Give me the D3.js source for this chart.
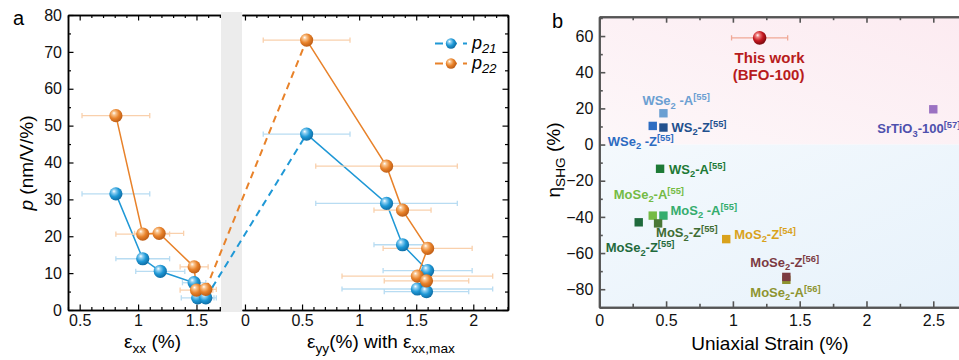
<!DOCTYPE html>
<html>
<head>
<meta charset="utf-8">
<script src="https://cdn.jsdelivr.net/npm/d3@7/dist/d3.min.js"></script>
<style>
  body { margin: 0; background: #fff; }
  svg { display: block; font-family: "Liberation Sans", Arial, sans-serif; }
</style>
</head>
<body>
<svg id="chart" width="959" height="360"></svg>
<script>
// ---- panel a: p vs strain, exx part
const xxStrain21 = [0.81, 1.04, 1.19, 1.48, 1.51, 1.58];
const xxErr21    = [0.29, 0.23, 0.21, 0.10, 0.14, 0.09];
const xxP21      = [31.5, 13.9, 10.5, 7.4, 3.3, 3.3];
const xxStrain22 = [0.81, 1.04, 1.18, 1.48, 1.50, 1.58];
const xxErr22    = [0.29, 0.23, 0.21, 0.12, 0.14, 0.09];
const xxP22      = [52.7, 20.6, 20.8, 11.7, 5.4, 5.6];

// ---- panel a: eyy part (with exx,max)
const yyStrain21 = [0.54, 1.24, 1.38, 1.60, 1.51, 1.59];
const yyErr21    = [0.38, 0.62, 0.25, 0.39, 0.66, 0.37];
const yyP21      = [47.7, 28.9, 17.7, 10.7, 5.7, 5.0];
const yyStrain22 = [0.54, 1.24, 1.38, 1.60, 1.51, 1.59];
const yyErr22    = [0.38, 0.62, 0.25, 0.39, 0.66, 0.37];
const yyP22      = [73.2, 39.0, 27.1, 16.7, 9.2, 7.9];

const xxTicks = [0.5, 1, 1.5];
const yyTicks = [0, 0.5, 1, 1.5, 2];
const pTicks  = [0, 10, 20, 30, 40, 50, 60, 70, 80];

// ---- panel b: eta_SHG vs uniaxial strain
const sampleNames  = ['WSe2-A', 'WSe2-Z', 'WS2-Z', 'WS2-A', 'MoSe2-A', 'MoS2-A', 'MoSe2-Z', 'MoS2-Z',
                      'MoS2-Z54', 'MoSe2-A56', 'MoSe2-Z56', 'SrTiO3'];
const sampleStrain = [0.48, 0.40, 0.48, 0.455, 0.40, 0.48, 0.295, 0.44, 0.95, 1.40, 1.40, 2.50];
const sampleEta    = [17.3, 10.3, 9.4, -13.4, -39.3, -39.3, -43.0, -43.6, -52.3, -74.8, -73.2, 19.5];
const thisStrain = 1.2, thisErr = 0.21, thisEta = 59;
const strainTicks = [0, 0.5, 1, 1.5, 2, 2.5];
const etaTicks = [-80, -60, -40, -20, 0, 20, 40, 60];

// label text pieces: [text, 'sub' | 'sup' | '']
const sampleLabels = {
  'WSe2-A':    [['WSe'], ['2', 'sub'], [' -A'], ['[55]', 'sup']],
  'WSe2-Z':    [['WSe'], ['2', 'sub'], [' -Z'], ['[55]', 'sup']],
  'WS2-Z':     [['WS'], ['2', 'sub'], ['-Z'], ['[55]', 'sup']],
  'WS2-A':     [['WS'], ['2', 'sub'], ['-A'], ['[55]', 'sup']],
  'MoSe2-A':   [['MoSe'], ['2', 'sub'], ['-A'], ['[55]', 'sup']],
  'MoS2-A':    [['MoS'], ['2', 'sub'], [' -A'], ['[55]', 'sup']],
  'MoSe2-Z':   [['MoSe'], ['2', 'sub'], ['-Z'], ['[55]', 'sup']],
  'MoS2-Z':    [['MoS'], ['2', 'sub'], ['-Z'], ['[55]', 'sup']],
  'MoS2-Z54':  [['MoS'], ['2', 'sub'], ['-Z'], ['[54]', 'sup']],
  'MoSe2-A56': [['MoSe'], ['2', 'sub'], ['-A'], ['[56]', 'sup']],
  'MoSe2-Z56': [['MoSe'], ['2', 'sub'], ['-Z'], ['[56]', 'sup']],
  'SrTiO3':    [['SrTiO'], ['3', 'sub'], ['-100'], ['[57]', 'sup']]
};
// styling / label placement (pixels relative to the marker)
const sampleColor = {
  'WSe2-A': '#6b9fd2', 'WSe2-Z': '#2c6cc2', 'WS2-Z': '#22508e', 'WS2-A': '#1d7a36',
  'MoSe2-A': '#74bb44', 'MoS2-A': '#35ad6e', 'MoSe2-Z': '#1f6a3c', 'MoS2-Z': '#4a7836',
  'MoS2-Z54': '#d9a21c', 'MoSe2-A56': '#8e9430', 'MoSe2-Z56': '#7b3a42', 'SrTiO3': '#9b72c2'
};
const labelColor = Object.assign({}, sampleColor, { 'SrTiO3': '#4e50ad', 'MoS2-Z': '#3f6d33' });
const labelOffset = {
  'WSe2-A': [-21, -8], 'WSe2-Z': [-45, 20], 'WS2-Z': [8, 4], 'WS2-A': [9, 5],
  'MoSe2-A': [-39, -17], 'MoS2-A': [7, -1], 'MoSe2-Z': [-33, 30], 'MoS2-Z': [-2, 14],
  'MoS2-Z54': [8, 0], 'MoSe2-A56': [-36, 17], 'MoSe2-Z56': [-36, -10], 'SrTiO3': [-56, 24]
};

const svg = d3.select('#chart');
const defs = svg.append('defs');

function sphereGrad(id, light, base, dark) {
  const g = defs.append('radialGradient').attr('id', id)
    .attr('cx', '40%').attr('cy', '38%').attr('r', '62%').attr('fx', '35%').attr('fy', '30%');
  g.append('stop').attr('offset', '0%').attr('stop-color', '#ffffff');
  g.append('stop').attr('offset', '22%').attr('stop-color', light);
  g.append('stop').attr('offset', '60%').attr('stop-color', base);
  g.append('stop').attr('offset', '100%').attr('stop-color', dark);
}
sphereGrad('gBlue', '#8fd0f2', '#1e98d6', '#0f6ea6');
sphereGrad('gOrange', '#f9c48e', '#e8822a', '#bf5e16');
sphereGrad('gRed', '#f08080', '#c41820', '#7c0a0e');

function richText(sel, x, y, parts, size) {
  const t = sel.append('text').attr('x', x).attr('y', y).attr('font-size', size);
  let cur = 0;
  parts.forEach(p => {
    const s = t.append('tspan').text(p[0]);
    let target = 0;
    if (p[1] === 'sub') { target = size * 0.25; s.attr('font-size', size * 0.72); }
    if (p[1] === 'sup') { target = -size * 0.38; s.attr('font-size', size * 0.72); }
    if (p[2] === 'i') s.attr('font-style', 'italic');
    s.attr('dy', target - cur);
    cur = target;
  });
  return t;
}

function styleAxis(g, color, width) {
  g.select('.domain').attr('stroke', color).attr('stroke-width', width);
  g.selectAll('.tick line').attr('stroke', color).attr('stroke-width', width * 0.8);
  g.selectAll('.tick text').attr('fill', '#111').attr('font-family', '"Liberation Sans", Arial, sans-serif');
}

// ================= panel a =================
const aTop = 15, aBot = 310;
const xL = d3.scaleLinear().domain([0.4, 1.71]).range([68, 221]);
const xR = d3.scaleLinear().domain([-0.026, 2.304]).range([242, 508]);
const yA = d3.scaleLinear().domain([0, 80]).range([aBot, aTop]);
const pa = svg.append('g');

function axesA(x, minorX, majorX, fmt, left, right) {
  const minorB = pa.append('g').attr('transform', `translate(0,${aBot})`)
    .call(d3.axisBottom(x).tickValues(minorX).tickSize(-3).tickSizeOuter(0).tickFormat(''));
  styleAxis(minorB, '#000', 1.5);
  const majB = pa.append('g').attr('transform', `translate(0,${aBot})`)
    .call(d3.axisBottom(x).tickValues(majorX).tickSize(-5.5).tickSizeOuter(0).tickPadding(5).tickFormat(fmt));
  styleAxis(majB, '#000', 1.5);
  majB.selectAll('.tick text').attr('font-size', 16);
  const minorT = pa.append('g').attr('transform', `translate(0,${aTop})`)
    .call(d3.axisTop(x).tickValues(minorX).tickSize(-3).tickSizeOuter(0).tickFormat(''));
  styleAxis(minorT, '#000', 1.5);
  const majT = pa.append('g').attr('transform', `translate(0,${aTop})`)
    .call(d3.axisTop(x).tickValues(majorX).tickSize(-5.5).tickSizeOuter(0).tickFormat(''));
  styleAxis(majT, '#000', 1.5);
  const minorY = pTicks.slice(0, -1).map(v => v + 5);
  if (left) {
    const ml = pa.append('g').attr('transform', `translate(${x.range()[0]},0)`)
      .call(d3.axisLeft(yA).tickValues(minorY).tickSize(-3).tickSizeOuter(0).tickFormat(''));
    styleAxis(ml, '#000', 1.5);
    const gl = pa.append('g').attr('transform', `translate(${x.range()[0]},0)`)
      .call(d3.axisLeft(yA).tickValues(pTicks).tickSize(-5.5).tickSizeOuter(0).tickPadding(6).tickFormat(d3.format('d')));
    styleAxis(gl, '#000', 1.5);
    gl.selectAll('.tick text').attr('font-size', 16);
  }
  if (right) {
    const mr = pa.append('g').attr('transform', `translate(${x.range()[1]},0)`)
      .call(d3.axisRight(yA).tickValues(minorY).tickSize(-3).tickSizeOuter(0).tickFormat(''));
    styleAxis(mr, '#000', 1.5);
    const gr = pa.append('g').attr('transform', `translate(${x.range()[1]},0)`)
      .call(d3.axisRight(yA).tickValues(pTicks).tickSize(-5.5).tickSizeOuter(0).tickFormat(''));
    styleAxis(gr, '#000', 1.5);
  }
}
const fmtA = d => (d === 0 ? '0' : d3.format('~g')(d));
axesA(xL, d3.range(0.4, 1.75, 0.1).map(v => +v.toFixed(2)).filter(v => !xxTicks.includes(v)), xxTicks, fmtA, true, false);
axesA(xR, d3.range(0.1, 2.35, 0.1).map(v => +v.toFixed(2)).filter(v => !yyTicks.includes(v)), yyTicks, fmtA, false, true);

// broken-axis gap
pa.append('rect').attr('x', 221).attr('y', 12).attr('width', 21).attr('height', 300).attr('fill', '#ececec');

function drawSeries(xs, es, ps, x, lineColor, errColor) {
  const g = pa.append('g');
  xs.forEach((v, i) => {
    const y = yA(ps[i]), x0 = x(v - es[i]), x1 = x(v + es[i]);
    g.append('line').attr('x1', x0).attr('x2', x1).attr('y1', y).attr('y2', y)
      .attr('stroke', errColor).attr('stroke-width', 1.3);
    [x0, x1].forEach(xx => g.append('line').attr('x1', xx).attr('x2', xx).attr('y1', y - 2.6).attr('y2', y + 2.6)
      .attr('stroke', errColor).attr('stroke-width', 1.3));
  });
  const line = d3.line().x((d, i) => x(xs[i])).y(d => yA(d));
  g.append('path').attr('d', line(ps)).attr('fill', 'none').attr('stroke', lineColor).attr('stroke-width', 1.5);
  return g;
}
function drawSpheres(xs, ps, x, grad) {
  pa.append('g').selectAll('circle').data(ps).join('circle')
    .attr('cx', (d, i) => x(xs[i])).attr('cy', d => yA(d)).attr('r', 6.6)
    .attr('fill', `url(#${grad})`);
}

const blue = '#1f98d6', orange = '#e8822a';
drawSeries(xxStrain21, xxErr21, xxP21, xL, blue, '#b8dcf2');
drawSeries(yyStrain21, yyErr21, yyP21, xR, blue, '#b8dcf2');
drawSeries(xxStrain22, xxErr22, xxP22, xL, orange, '#f9d0ac');
drawSeries(yyStrain22, yyErr22, yyP22, xR, orange, '#f9d0ac');

// dashed links across the break
[[xxStrain21, xxP21, yyStrain21, yyP21, blue], [xxStrain22, xxP22, yyStrain22, yyP22, orange]].forEach(s => {
  const n = s[0].length - 1;
  pa.append('line')
    .attr('x1', xL(s[0][n])).attr('y1', yA(s[1][n]))
    .attr('x2', xR(s[2][0])).attr('y2', yA(s[3][0]))
    .attr('stroke', s[4]).attr('stroke-width', 2).attr('stroke-dasharray', '7,5');
});

drawSpheres(xxStrain21, xxP21, xL, 'gBlue');
drawSpheres(yyStrain21, yyP21, xR, 'gBlue');
drawSpheres(xxStrain22, xxP22, xL, 'gOrange');
drawSpheres(yyStrain22, yyP22, xR, 'gOrange');

// legend
[['21', blue, 'gBlue', 43.5], ['22', orange, 'gOrange', 63.5]].forEach(l => {
  pa.append('line').attr('x1', 435).attr('x2', 467).attr('y1', l[3]).attr('y2', l[3])
    .attr('stroke', l[1]).attr('stroke-width', 1.8).attr('stroke-dasharray', '8,6');
  pa.append('circle').attr('cx', 451).attr('cy', l[3]).attr('r', 5.2).attr('fill', `url(#${l[2]})`);
  richText(pa, 472, l[3] + 5, [['p', '', 'i'], [l[0], 'sub', 'i']], 18);
});

// titles
svg.append('text').attr('x', 13).attr('y', 25).attr('font-size', 20).text('a');
richText(svg, 124, 348, [['ε'], ['xx', 'sub'], [' (%)']], 19);
richText(svg, 307, 348, [['ε'], ['yy', 'sub'], ['(%) with ε'], ['xx,max', 'sub']], 19);
richText(svg.append('g').attr('transform', 'translate(33,163) rotate(-90)'), 0, 0,
  [['p', '', 'i'], [' (nm/V/%)']], 19).attr('text-anchor', 'middle');

// ================= panel b =================
const bTop = 16.7, bBot = 307.3, bLeft = 599.3, bRight = 960;
const xB = d3.scaleLinear().domain([0, 2.7]).range([bLeft, bRight]);
const yB = d3.scaleLinear().domain([-90, 70.7]).range([bBot, bTop]);
const pb = svg.append('g');

const gPink = defs.append('linearGradient').attr('id', 'bgPink').attr('x1', '0%').attr('x2', '100%').attr('y1', '100%').attr('y2', '0%');
gPink.append('stop').attr('offset', '0%').attr('stop-color', '#fdf7f9');
gPink.append('stop').attr('offset', '100%').attr('stop-color', '#fcebf1');
const gSky = defs.append('linearGradient').attr('id', 'bgSky').attr('x1', '0%').attr('x2', '100%').attr('y1', '0%').attr('y2', '100%');
gSky.append('stop').attr('offset', '0%').attr('stop-color', '#f4f9fd');
gSky.append('stop').attr('offset', '100%').attr('stop-color', '#e7f2fb');
pb.append('rect').attr('x', bLeft).attr('y', bTop).attr('width', bRight - bLeft).attr('height', yB(0) - bTop).attr('fill', 'url(#bgPink)');
pb.append('rect').attr('x', bLeft).attr('y', yB(0)).attr('width', bRight - bLeft).attr('height', bBot - yB(0)).attr('fill', 'url(#bgSky)');

const axC = '#555';
const minorS = d3.range(0.25, 2.7, 0.5);
const bxMin = pb.append('g').attr('transform', `translate(0,${bBot})`)
  .call(d3.axisBottom(xB).tickValues(minorS).tickSize(-3.5).tickSizeOuter(0).tickFormat(''));
styleAxis(bxMin, axC, 2);
const bx = pb.append('g').attr('transform', `translate(0,${bBot})`)
  .call(d3.axisBottom(xB).tickValues(strainTicks).tickSize(-6).tickSizeOuter(0).tickPadding(7).tickFormat(fmtA));
styleAxis(bx, axC, 2);
bx.selectAll('.tick text').attr('font-size', 16);
const btMin = pb.append('g').attr('transform', `translate(0,${bTop})`)
  .call(d3.axisTop(xB).tickValues(minorS).tickSize(-3.5).tickSizeOuter(0).tickFormat(''));
styleAxis(btMin, axC, 2);
const bt = pb.append('g').attr('transform', `translate(0,${bTop})`)
  .call(d3.axisTop(xB).tickValues(strainTicks).tickSize(-6).tickSizeOuter(0).tickFormat(''));
styleAxis(bt, axC, 2);
const byMin = pb.append('g').attr('transform', `translate(${bLeft},0)`)
  .call(d3.axisLeft(yB).tickValues(d3.range(-90, 71, 20)).tickSize(-3.5).tickSizeOuter(0).tickFormat(''));
styleAxis(byMin, axC, 2);
const by = pb.append('g').attr('transform', `translate(${bLeft},0)`)
  .call(d3.axisLeft(yB).tickValues(etaTicks).tickSize(-6).tickSizeOuter(0).tickPadding(6).tickFormat(d3.format('d')));
styleAxis(by, axC, 2);
by.selectAll('.tick text').attr('font-size', 16);

// samples
sampleNames.forEach((name, i) => {
  const cx = xB(sampleStrain[i]), cy = yB(sampleEta[i]);
  pb.append('rect').attr('x', cx - 4.2).attr('y', cy - 4.2).attr('width', 8.4).attr('height', 8.4)
    .attr('fill', sampleColor[name]);
});
sampleNames.forEach((name, i) => {
  const cx = xB(sampleStrain[i]), cy = yB(sampleEta[i]);
  const off = labelOffset[name];
  richText(pb, cx + off[0], cy + off[1], sampleLabels[name], 13)
    .attr('fill', labelColor[name]).attr('font-weight', 'bold');
});

// this work
const tx = xB(thisStrain), ty = yB(thisEta);
pb.append('line').attr('x1', xB(thisStrain - thisErr)).attr('x2', xB(thisStrain + thisErr))
  .attr('y1', ty).attr('y2', ty).attr('stroke', '#f0a896').attr('stroke-width', 1.3);
[thisStrain - thisErr, thisStrain + thisErr].forEach(v => pb.append('line')
  .attr('x1', xB(v)).attr('x2', xB(v)).attr('y1', ty - 2.6).attr('y2', ty + 2.6)
  .attr('stroke', '#f0a896').attr('stroke-width', 1.3));
pb.append('circle').attr('cx', tx).attr('cy', ty).attr('r', 6.8).attr('fill', 'url(#gRed)');
pb.append('text').attr('x', tx + 10).attr('y', ty + 25).attr('text-anchor', 'middle')
  .attr('font-size', 15).attr('font-weight', 'bold').attr('fill', '#b81c1c').text('This work');
pb.append('text').attr('x', tx + 9).attr('y', ty + 42).attr('text-anchor', 'middle')
  .attr('font-size', 15).attr('font-weight', 'bold').attr('fill', '#b81c1c').text('(BFO-100)');

svg.append('text').attr('x', 552).attr('y', 28).attr('font-size', 20).text('b');
svg.append('text').attr('x', 770).attr('y', 350).attr('text-anchor', 'middle').attr('font-size', 19).text('Uniaxial Strain (%)');
richText(svg.append('g').attr('transform', 'translate(560,160) rotate(-90)'), 0, 0,
  [['η'], ['SHG', 'sub'], [' (%)']], 19).attr('text-anchor', 'middle');
</script>
</body>
</html>
